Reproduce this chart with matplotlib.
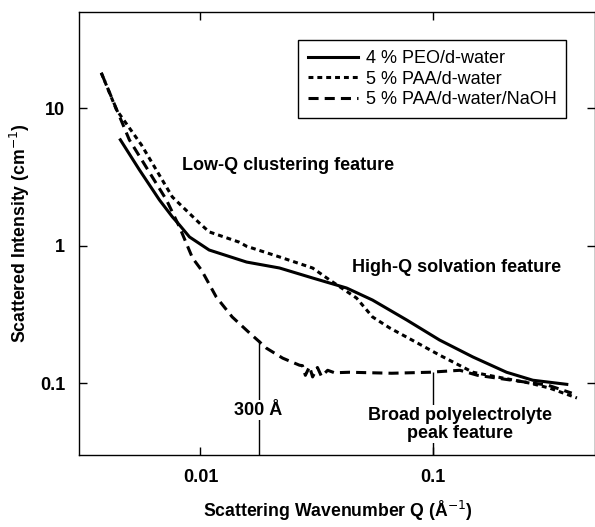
import matplotlib
matplotlib.use("Agg")
import matplotlib.pyplot as plt
from matplotlib.ticker import FixedLocator, NullLocator, FixedFormatter

plt.rcParams["font.family"] = ["Liberation Sans", "DejaVu Sans"]

# 4 % PEO/d-water
peo_q = [0.00452, 0.00546, 0.00666, 0.00757, 0.00812, 0.00897, 0.0109, 0.0158,
         0.0219, 0.0304, 0.0426, 0.0551, 0.0773, 0.107, 0.149, 0.208, 0.270, 0.378]
peo_i = [5.89, 3.56, 2.15, 1.62, 1.415, 1.157, 0.93, 0.76,
         0.688, 0.582, 0.492, 0.402, 0.288, 0.206, 0.155, 0.120, 0.105, 0.098]

# 5 % PAA/d-water
paa_q = [0.00374, 0.00435, 0.00557, 0.00757, 0.0099, 0.0109, 0.0147, 0.0158,
         0.0219, 0.0304, 0.036, 0.047, 0.0551, 0.0653, 0.0773, 0.107, 0.149,
         0.189, 0.262, 0.319, 0.418]
paa_i = [18.1, 9.73, 5.41, 2.26, 1.46, 1.26, 1.06, 0.99,
         0.828, 0.688, 0.563, 0.416, 0.303, 0.252, 0.216, 0.160, 0.120,
         0.111, 0.100, 0.092, 0.078]

# 5 % PAA/d-water/NaOH
naoh_q = [0.00374, 0.00494, 0.00714, 0.00812, 0.00924, 0.0101, 0.0117, 0.0137,
          0.0163, 0.0180, 0.0192, 0.0226, 0.0267, 0.0275, 0.0283, 0.0295, 0.0304,
          0.0319, 0.0332, 0.0353, 0.0378, 0.0439, 0.0666, 0.097, 0.131, 0.156,
          0.219, 0.313, 0.397]
naoh_i = [18.1, 5.89, 2.15, 1.37, 0.814, 0.665, 0.423, 0.303,
          0.231, 0.199, 0.180, 0.152, 0.135, 0.134, 0.114, 0.132, 0.111,
          0.130, 0.112, 0.124, 0.119, 0.120, 0.118, 0.120, 0.124, 0.114,
          0.105, 0.0967, 0.0846]

x_ticks = [0.01, 0.1]
x_tick_labels = ["0.01", "0.1"]
y_ticks = [0.1, 1, 10]
y_tick_labels = ["0.1", "1", "10"]

fig = plt.figure(figsize=(5.95, 5.27), dpi=100)
ax = fig.add_axes([0.1328, 0.1366, 0.8672, 0.8404])

ax.plot(peo_q, peo_i, color="black", lw=2.2, label="4 % PEO/d-water")
ax.plot(paa_q, paa_i, color="black", lw=2.2, dashes=(1.6, 1.3), label="5 % PAA/d-water")
ax.plot(naoh_q, naoh_i, color="black", lw=2.2, dashes=(3.3, 2.0),
        label="5 % PAA/d-water/NaOH")

ax.set_xscale("log")
ax.set_yscale("log")
ax.set_xlim(0.003, 0.5)
ax.set_ylim(0.03, 50)

ax.xaxis.set_major_locator(FixedLocator(x_ticks))
ax.xaxis.set_major_formatter(FixedFormatter(x_tick_labels))
ax.yaxis.set_major_locator(FixedLocator(y_ticks))
ax.yaxis.set_major_formatter(FixedFormatter(y_tick_labels))
ax.xaxis.set_minor_locator(NullLocator())
ax.yaxis.set_minor_locator(NullLocator())
ax.tick_params(direction="in", length=6, width=1, top=True, right=True,
               labelsize=13, pad=10)
for lab in ax.get_xticklabels() + ax.get_yticklabels():
    lab.set_fontweight("bold")
for sp in ax.spines.values():
    sp.set_linewidth(1)

ax.set_xlabel("Scattering Wavenumber Q (Å$^{-1}$)", fontsize=12.7, fontweight="bold")
ax.xaxis.set_label_coords(0.501, -0.098)
ax.set_ylabel("Scattered Intensity (cm$^{-1}$)", fontsize=12.7, fontweight="bold")
ax.yaxis.set_label_coords(-0.091, 0.5)

# annotations
ax.vlines(0.0178, 0.03, 0.205, color="black", lw=1)
ax.text(0.0178, 0.0636, "300 Å", ha="center", va="center", fontsize=13,
        fontweight="bold", bbox=dict(facecolor="white", edgecolor="none", pad=1))
ax.vlines(0.1, 0.03, 0.12, color="black", lw=1)
ax.text(0.1306, 0.0503, "Broad polyelectrolyte\npeak feature", ha="center", va="center",
        fontsize=13, fontweight="bold", linespacing=1.1,
        bbox=dict(facecolor="white", edgecolor="none", pad=1))
ax.text(0.0239, 3.81, "Low-Q clustering feature", ha="center", va="center",
        fontsize=13, fontweight="bold")
ax.text(0.127, 0.688, "High-Q solvation feature", ha="center", va="center",
        fontsize=13, fontweight="bold")

leg = ax.legend(loc="upper left", bbox_to_anchor=(0.424, 0.937), fontsize=13,
                frameon=True, fancybox=False, edgecolor="black", framealpha=1,
                handlelength=2.8, handletextpad=0.4, borderpad=0.55, labelspacing=0.2,
                borderaxespad=0)
leg.get_frame().set_linewidth(1)

fig.savefig("out.png", dpi=100)
